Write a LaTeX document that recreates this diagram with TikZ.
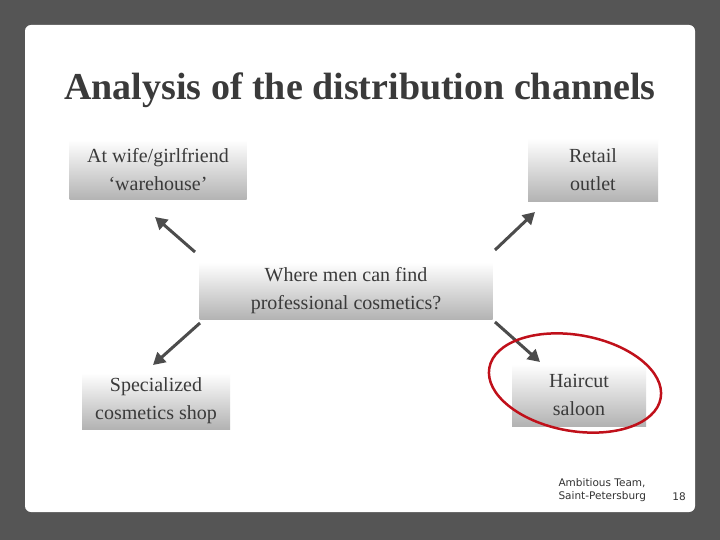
\documentclass[tikz,border=0pt]{standalone}
\usepackage{fontspec}
\setmainfont{Liberation Serif}
\newfontfamily\footfont{DejaVu Sans}
\usetikzlibrary{arrows.meta}
\definecolor{bg}{HTML}{555555}
\definecolor{txt}{HTML}{3A3A3A}
\definecolor{ring}{HTML}{C0101A}
\tikzset{
 box/.style={top color=white,bottom color=black!30,text=txt,font=\fontsize{20}{28}\selectfont,align=center,inner sep=0pt},
 arr/.style={draw=black!70,line width=3pt,-{Triangle[length=12pt,width=13pt]}}
}
\begin{document}
\begin{tikzpicture}[x=1pt,y=-1pt]
\fill[bg] (0,0) rectangle (720,540);
\fill[white,rounded corners=6pt] (25,25) rectangle (695,512);
\node[text=txt,font=\fontsize{38}{44}\selectfont\bfseries] (title) at (360,90) {Analysis of the distribution channels};
\node[box,minimum width=177pt,minimum height=60pt] (wife) at (158,170) {At wife/girlfriend\\‘warehouse’};
\node[box,minimum width=130pt,minimum height=63pt] (retail) at (593,170) {Retail\\outlet};
\node[box,minimum width=293pt,minimum height=57pt] (center) at (346,291) {Where men can find\\professional cosmetics?};
\node[box,minimum width=148pt,minimum height=56pt] (spec) at (156,401) {Specialized\\cosmetics shop};
\node[box,minimum width=134pt,minimum height=62pt] (hair) at (579,395) {Haircut\\saloon};
\coordinate (a1) at (195,252); \coordinate (a2) at (155,217);
\coordinate (b1) at (495,250); \coordinate (b2) at (535,212);
\coordinate (c1) at (200,323); \coordinate (c2) at (153,365);
\coordinate (d1) at (495,322); \coordinate (d2) at (540,362);
\draw[arr] (a1) -- (a2);
\draw[arr] (b1) -- (b2);
\draw[arr] (c1) -- (c2);
\draw[arr] (d1) -- (d2);
\draw[ring,line width=2.5pt,rotate around={-10:(575,383)}] (575,383) ellipse (87 and 48);
\node[font=\footfont\fontsize{10.5}{12.5}\selectfont,align=left,anchor=west,text=black!80] (foot) at (555,490) {Ambitious Team,\\Saint-Petersburg};
\node[font=\footfont\fontsize{10.5}{12.5}\selectfont,text=black!80] (num) at (679,497) {18};
\end{tikzpicture}
\end{document}
